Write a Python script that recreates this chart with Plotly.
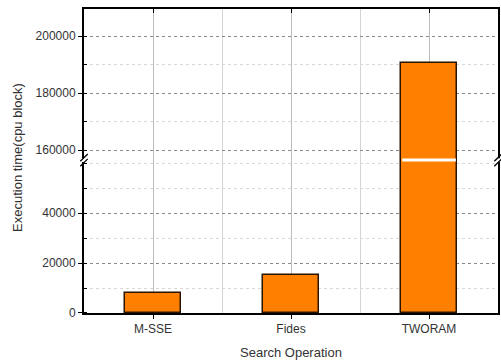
import plotly.graph_objects as go

# Search cost per scheme
schemes = ["M-SSE", "Fides", "TWORAM"]
exec_time = [7800, 15200, 190500]

# Broken y axis: lower and upper segment ranges
lower_range = [0, 61200]
lower_ticks = [0, 20000, 40000]
upper_range = [156500, 209500]
upper_ticks = [160000, 180000, 200000]

idx = list(range(len(schemes)))
bar_width = 0.41
split = 0.503  # paper fraction where the axis is broken

FONT = "Liberation Sans, Arial, sans-serif"
bar_style = dict(color="#FF8000", line=dict(color="#2a1400", width=1.5))

fig = go.Figure()
fig.add_trace(go.Bar(x=idx, y=exec_time, width=bar_width, marker=bar_style,
                     xaxis="x", yaxis="y", showlegend=False))
fig.add_trace(go.Bar(x=idx, y=exec_time, width=bar_width, marker=bar_style,
                     xaxis="x2", yaxis="y2", showlegend=False))

grid_x = dict(showgrid=True, gridcolor="#bdbdbd", gridwidth=1.2,
              minor=dict(dtick=0.5, tick0=0.5, showgrid=True, gridcolor="#d4d4d4",
                         gridwidth=1.2))
common_y = dict(showline=True, linecolor="black", linewidth=2, mirror=True,
                ticks="outside", ticklen=4, tickcolor="black", tickformat="d",
                showgrid=True, gridcolor="#8a8a8a", gridwidth=1, griddash="dot",
                zeroline=False,
                tickfont=dict(family=FONT, size=12, color="#333"),
                minor=dict(dtick=10000, tick0=0, showgrid=True, gridcolor="#d8d8d8",
                           gridwidth=1, ticks="inside", ticklen=3, tickcolor="black"))

fig.update_layout(
    width=501, height=363,
    margin=dict(l=84, r=1, t=9, b=50),
    paper_bgcolor="white", plot_bgcolor="white",
    bargap=0,
    font=dict(family=FONT, color="#333"),
    xaxis=dict(domain=[0, 1], anchor="y", range=[-0.5, 2.5],
               tickvals=idx, ticktext=schemes,
               showline=True, linecolor="black", linewidth=2,
               ticks="outside", ticklen=4, tickcolor="black",
               tickfont=dict(family=FONT, size=12, color="#333"),
               zeroline=False, **grid_x),
    xaxis2=dict(domain=[0, 1], anchor="y2", matches="x", side="top",
                tickvals=idx, showticklabels=False,
                showline=True, linecolor="black", linewidth=2,
                ticks="inside", ticklen=4, tickcolor="black",
                zeroline=False, **grid_x),
    yaxis=dict(domain=[0, split], anchor="x", range=lower_range,
               tickvals=lower_ticks, **common_y),
    yaxis2=dict(domain=[split, 1], anchor="x2", range=upper_range,
                tickvals=upper_ticks, **common_y),
)

# white gap across the clipped bar at the break
tall = exec_time.index(max(exec_time))
fig.add_shape(type="line", xref="x", yref="paper",
              x0=idx[tall] - bar_width / 2 + 0.01, x1=idx[tall] + bar_width / 2 - 0.01,
              y0=split, y1=split, line=dict(color="white", width=3))

# break marks on both vertical axes
for xp in (0, 1):
    fig.add_shape(type="rect", xref="paper", yref="paper",
                  x0=xp, x1=xp, y0=split - 0.006, y1=split + 0.006,
                  line=dict(color="white", width=6))
    for dy in (-0.008, 0.008):
        fig.add_shape(type="line", xref="paper", yref="paper",
                      x0=xp - 0.009, x1=xp + 0.009,
                      y0=split + dy - 0.012, y1=split + dy + 0.012,
                      line=dict(color="black", width=1.3))

fig.add_annotation(text="Execution time(cpu block)", textangle=-90,
                   xref="paper", yref="paper", x=0, y=0.51, xshift=-66,
                   xanchor="center", yanchor="middle", showarrow=False,
                   font=dict(family=FONT, size=13, color="#333"))
fig.add_annotation(text="Search Operation", xref="paper", yref="paper",
                   x=0.5, y=0, yshift=-39, xanchor="center", yanchor="middle",
                   showarrow=False, font=dict(family=FONT, size=13, color="#333"))

fig.write_html("out.html")
